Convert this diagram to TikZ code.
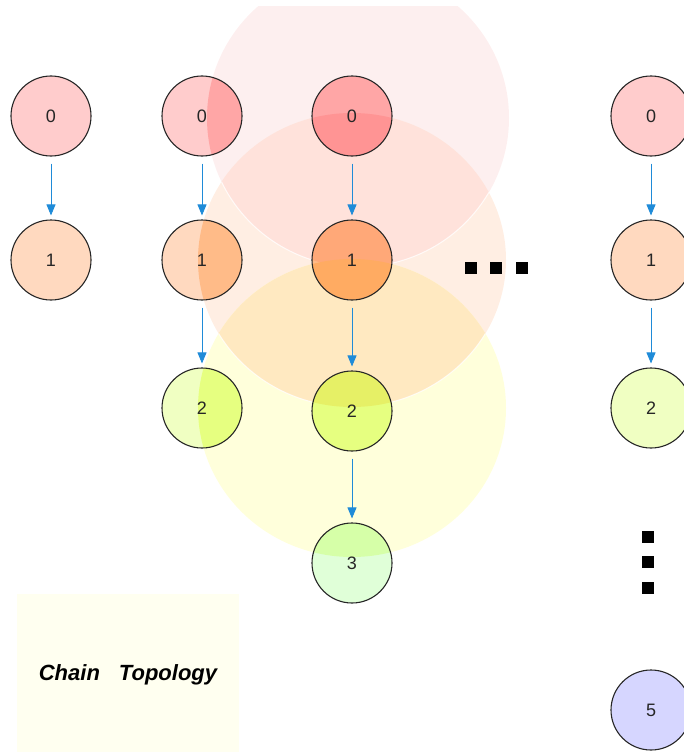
\documentclass[tikz,border=0pt]{standalone}
\usepackage{fontspec}
\setmainfont{Liberation Sans}
\usetikzlibrary{arrows.meta}

% node fills
\definecolor{fillzero}{HTML}{FFCCCC}
\definecolor{fillone}{HTML}{FFD9BF}
\definecolor{filltwo}{HTML}{F0FFC2}
\definecolor{fillthree}{HTML}{E0FFD8}
\definecolor{fillfive}{HTML}{D6D6FF}
% node fills where the shaded zones cover them
\definecolor{zeroP}{HTML}{FFA6A6}
\definecolor{zeroPE}{HTML}{FF9494}
\definecolor{oneE}{HTML}{FFBB88}
\definecolor{onePE}{HTML}{FFA878}
\definecolor{oneEY}{HTML}{FFAB62}
\definecolor{twoY}{HTML}{E6FF80}
\definecolor{twoYE}{HTML}{E6F066}
\definecolor{threeY}{HTML}{D6FFA8}
% shaded zones
\definecolor{zonepink}{HTML}{FDEFEF}
\definecolor{zonepeach}{HTML}{FFEEE3}
\definecolor{zoneyellow}{HTML}{FFFFDB}
\definecolor{zonepinkpeach}{HTML}{FFE2DB}
\definecolor{zonepeachyellow}{HTML}{FFE9C1}
\definecolor{flowblue}{HTML}{1F8BD8}
\definecolor{notefill}{HTML}{FFFFF0}

\begin{document}
\begin{tikzpicture}[x=1pt,y=-1pt,
  vert/.style={circle, draw=black!85, line width=1.1pt, minimum size=80pt,
    inner sep=0pt, text=black!85, font=\fontsize{18pt}{20pt}\selectfont},
  flow/.style={draw=flowblue, line width=0.8pt,
    -{Triangle[length=11pt,width=9pt]}, shorten <=7pt, shorten >=4pt},
  rim/.style={draw=white, line width=1pt, draw opacity=0.8}]
\useasboundingbox (0,0) rectangle (684,752);
\clip (0,0) rectangle (684,752);

% the three shaded zones
\def\pinkzone{(358,118) ellipse [x radius=151, y radius=149]}
\def\peachzone{(352,260) ellipse [x radius=154, y radius=147]}
\def\yellowzone{(352,408) ellipse [x radius=154, y radius=149]}

% vertex positions
\coordinate (pA0) at (51,116);
\coordinate (pA1) at (51,260);
\coordinate (pB0) at (202,116);
\coordinate (pB1) at (202,260);
\coordinate (pB2) at (202,408);
\coordinate (pC0) at (352,116);
\coordinate (pC1) at (352,260);
\coordinate (pC2) at (352,411);
\coordinate (pC3) at (352,563);
\coordinate (pD0) at (651,116);
\coordinate (pD1) at (651,260);
\coordinate (pD2) at (651,408);
\coordinate (pD5) at (651,710);

% shaded zones
\begin{scope}
  \clip (0,7) rectangle (684,752);
  \fill[zonepink] \pinkzone;
  \fill[zonepeach] \peachzone;
  \fill[zoneyellow] \yellowzone;
  \begin{scope}
    \clip \pinkzone;
    \fill[zonepinkpeach] \peachzone;
  \end{scope}
  \begin{scope}
    \clip \peachzone;
    \fill[zonepeachyellow] \yellowzone;
  \end{scope}
  \begin{scope}
    \clip \peachzone;
    \path[rim] \pinkzone;
  \end{scope}
  \begin{scope}
    \clip \yellowzone;
    \path[rim] \peachzone;
  \end{scope}
\end{scope}

% vertex fills
\fill[fillzero] (pA0) circle (40);
\fill[fillone] (pA1) circle (40);
\fill[fillzero] (pB0) circle (40);
\fill[fillone] (pB1) circle (40);
\fill[filltwo] (pB2) circle (40);
\fill[fillzero] (pC0) circle (40);
\fill[fillone] (pC1) circle (40);
\fill[filltwo] (pC2) circle (40);
\fill[fillthree] (pC3) circle (40);
\fill[fillzero] (pD0) circle (40);
\fill[fillone] (pD1) circle (40);
\fill[filltwo] (pD2) circle (40);
\fill[fillfive] (pD5) circle (40);

% vertex fills inside the shaded zones
\begin{scope}
  \clip (pB0) circle (40);
  \fill[zeroP] \pinkzone;
\end{scope}
\begin{scope}
  \clip (pC0) circle (40);
  \fill[zeroP] \pinkzone;
  \clip \pinkzone;
  \fill[zeroPE] \peachzone;
\end{scope}
\begin{scope}
  \clip (pB1) circle (40);
  \fill[oneE] \peachzone;
\end{scope}
\begin{scope}
  \clip (pC1) circle (40);
  \fill[oneE] \peachzone;
  \begin{scope}
    \clip \pinkzone;
    \fill[onePE] \peachzone;
  \end{scope}
  \fill[oneEY] \yellowzone;
\end{scope}
\begin{scope}
  \clip (pB2) circle (40);
  \fill[twoY] \yellowzone;
\end{scope}
\begin{scope}
  \clip (pC2) circle (40);
  \fill[twoY] \yellowzone;
  \fill[twoYE] \peachzone;
\end{scope}
\begin{scope}
  \clip (pC3) circle (40);
  \fill[threeY] \yellowzone;
\end{scope}

% vertices
\node[vert] (a0) at (pA0) {0};
\node[vert] (a1) at (pA1) {1};
\node[vert] (b0) at (pB0) {0};
\node[vert] (b1) at (pB1) {1};
\node[vert] (b2) at (pB2) {2};
\node[vert] (c0) at (pC0) {0};
\node[vert] (c1) at (pC1) {1};
\node[vert] (c2) at (pC2) {2};
\node[vert] (c3) at (pC3) {3};
\node[vert] (d0) at (pD0) {0};
\node[vert] (d1) at (pD1) {1};
\node[vert] (d2) at (pD2) {2};
\node[vert] (d5) at (pD5) {5};

% chain links
\draw[flow] (a0) -- (a1);
\draw[flow] (b0) -- (b1);
\draw[flow] (b1) -- (b2);
\draw[flow] (c0) -- (c1);
\draw[flow] (c1) -- (c2);
\draw[flow] (c2) -- (c3);
\draw[flow] (d0) -- (d1);
\draw[flow] (d1) -- (d2);

% ellipsis marks
\fill (465,262) rectangle (477,274);
\fill (490,262) rectangle (502,274);
\fill (516,262) rectangle (528,274);
\fill (642,531) rectangle (654,543);
\fill (642,556) rectangle (654,568);
\fill (642,582) rectangle (654,594);

% caption box
\fill[notefill] (17,594) rectangle (239,760);
\node[font=\fontsize{22pt}{26pt}\selectfont\bfseries\itshape] (caption) at (128,675)
  {Chain\hspace{19pt}Topology};
\end{tikzpicture}
\end{document}
